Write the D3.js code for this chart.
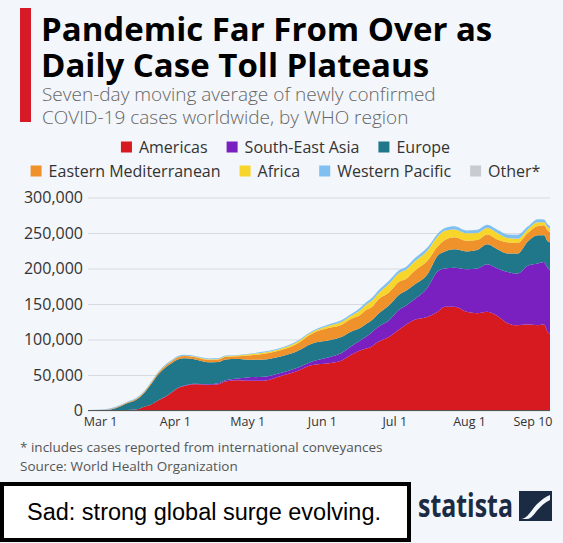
<!DOCTYPE html>
<html>
<head>
<meta charset="utf-8">
<script src="https://cdn.jsdelivr.net/npm/d3@7/dist/d3.min.js"></script>
<style>
html, body { margin: 0; padding: 0; background: #f3f6fa; }
svg { display: block; font-family: "Open Sans", sans-serif; }
</style>
</head>
<body>
<svg id="chart" width="563" height="543"></svg>
<script>
// regions, bottom to top in the stack
const regions = ["Americas", "South-East Asia", "Europe", "Eastern Mediterranean", "Africa", "Western Pacific", "Other*"];
const regionColors = ["#d71920", "#7a1fc0", "#20778a", "#f0922b", "#f8d52b", "#80c0f0", "#c8cbcf"];

// 7-day average, thousands of new cases per day
const dates = ["2020-02-25","2020-03-03","2020-03-08","2020-03-12","2020-03-16","2020-03-19","2020-03-22",
  "2020-03-25","2020-03-28","2020-03-31","2020-04-02","2020-04-05","2020-04-09","2020-04-15","2020-04-19",
  "2020-04-22","2020-04-27","2020-05-01","2020-05-08","2020-05-14","2020-05-21","2020-05-28","2020-06-04",
  "2020-06-09","2020-06-13","2020-06-17","2020-06-19","2020-06-22","2020-06-24","2020-06-29","2020-07-03",
  "2020-07-06","2020-07-09","2020-07-15","2020-07-19","2020-07-22","2020-07-26","2020-07-31","2020-08-05",
  "2020-08-10","2020-08-15","2020-08-20","2020-08-25","2020-08-30","2020-09-04","2020-09-07","2020-09-09","2020-09-10"];
const americas = [0,0,0.3,0.8,1.5,5,8,14,19,26,31,34.5,37,36,37,41,42.5,42,42,47.5,54.5,64,66.5,70,78,85,87,91,96,104,114,
  121,127,132,139,146,146,139,137,139,133,123,120,121,120,121,110,108];
const seAsia = [0,0,0,0,0,0.1,0.1,0.2,0.3,0.4,0.5,0.6,0.8,1,1.3,1.5,2.5,4.5,5.5,4.5,4.5,5,8.5,10.5,12,14,16,20,21,23.5,28,
  27,28.5,42,57,54,55,60,63,67,67,72,73,83,87,88,90,90];
const europe = [0.1,0.4,3.5,9,13.5,18.5,28,36,41,41,40,38.5,34.5,31,30,29.5,27.5,25,24.5,23.5,23.5,25.5,24,23,21,17.5,18,17,18,21,21,
  21,21,19,22,24,26,25,26,28,27,26,28,34,40,38,38,39];
const eastMed = [0.1,0.5,1.2,1.2,1.5,1.5,2,2.3,2.5,2.6,3,3,3.2,3.5,3.5,3.6,4,6,8,8.5,10,14,17.5,17,18,18.5,20,18.5,20,18.5,18.5,
  16.5,19,19,13,16,17,15,14,14,14,16,15,12,13,14,15,14];
const africa = [0,0,0,0.1,0.1,0.2,0.2,0.3,0.3,0.4,0.4,0.5,0.6,0.7,0.8,0.9,1,1.2,1.8,2,2.5,2.2,3,4,4,6.5,7,9,8.5,12,12,
  13,13,14,14,13,11,10.5,10,9,9,6,6,5,5,4,5,5];
const westPac = [0.4,0.8,1,1,1.1,1,1,1,1.2,1.3,1.4,1.3,1.1,1.2,1,0.8,0.7,0.8,1.2,1.3,1.5,1.3,2,2.5,2.5,3.5,3.5,4,4,4.5,4,
  4,4.5,4.5,4,4,4.5,4,4.5,4.5,4.5,5,5.5,4,4.5,4,4,4];
const other = [0,0,0,0,0,0,0,0,0,0,0,0,0,0,0,0,0,0,0,0,0,0,0,0,0,0,0,0,0,0,0,0,0,0,0,0,0,0,0,0,0,0,0,0,0,0,0,0];

const yTicks = [0, 50000, 100000, 150000, 200000, 250000, 300000];
const xTickDates = ["2020-03-01","2020-04-01","2020-05-01","2020-06-01","2020-07-01","2020-08-01","2020-09-10"];
const xTickLabels = ["Mar 1","Apr 1","May 1","Jun 1","Jul 1","Aug 1","Sep 10"];

const parse = d3.timeParse("%Y-%m-%d");
const series = [americas, seAsia, europe, eastMed, africa, westPac, other];
const rows = dates.map((d, i) => {
    const r = { date: parse(d) };
    regions.forEach((k, j) => r[k] = series[j][i] * 1000);
    return r;
});

const svg = d3.select("#chart");
const plot = { left: 88, right: 550, top: 197.5, bottom: 410.5 };

// title block
svg.append("rect").attr("x", 20).attr("y", 8).attr("width", 11).attr("height", 114).attr("fill", "#d71a28");
svg.append("text").attr("x", 41).attr("y", 41).attr("font-size", 33).attr("font-weight", 700).attr("fill", "#000")
    .text("Pandemic Far From Over as");
svg.append("text").attr("x", 41).attr("y", 77).attr("font-size", 33).attr("font-weight", 700).attr("fill", "#000")
    .text("Daily Case Toll Plateaus");
svg.append("text").attr("x", 42).attr("y", 101).attr("font-size", 19).attr("font-weight", 300).attr("fill", "#666")
    .text("Seven-day moving average of newly confirmed");
svg.append("text").attr("x", 42).attr("y", 124).attr("font-size", 19).attr("font-weight", 300).attr("fill", "#666")
    .text("COVID-19 cases worldwide, by WHO region");

// legend, two centred rows
function legendRow(keys, cy) {
    const g = svg.append("g");
    let cx = 0;
    keys.forEach(k => {
        const i = regions.indexOf(k);
        g.append("rect").attr("x", cx).attr("y", cy - 5.5).attr("width", 11).attr("height", 11).attr("fill", regionColors[i]);
        const t = g.append("text").attr("x", cx + 18).attr("y", cy + 5.5).attr("font-size", 16).attr("fill", "#333").text(k);
        cx += 18 + t.node().getComputedTextLength() + 19;
    });
    const w = cx - 19;
    g.attr("transform", `translate(${285.5 - w / 2},0)`);
}
legendRow(regions.slice(0, 3), 147);
legendRow(regions.slice(3), 171);

// scales
const x = d3.scaleTime()
    .domain([parse("2020-02-25"), parse("2020-08-01"), parse("2020-09-10")])
    .range([plot.left, 469, plot.right]);
const y = d3.scaleLinear().domain([0, 300000]).range([plot.bottom, plot.top]);

// grid + y labels
const yAxis = svg.append("g")
    .attr("transform", `translate(${plot.left},0)`)
    .call(d3.axisLeft(y).tickValues(yTicks).tickFormat(d3.format(",")).tickSize(-(plot.right - plot.left)).tickPadding(5));
yAxis.select(".domain").remove();
yAxis.selectAll("line").attr("stroke", "#d7dadf").attr("stroke-width", 1.2);
yAxis.selectAll("text").attr("font-size", 16).attr("fill", "#333").attr("font-family", "Open Sans");

// stacked areas
const stacked = d3.stack().keys(regions)(rows);
const area = d3.area()
    .x(d => x(d.data.date))
    .y0(d => y(d[0]))
    .y1(d => y(d[1]))
    .curve(d3.curveMonotoneX);
svg.append("g").selectAll("path")
    .data(stacked)
    .join("path")
    .attr("d", area)
    .attr("fill", (d, i) => regionColors[i]);

// baseline
svg.append("line").attr("x1", plot.left).attr("x2", plot.right).attr("y1", y(0)).attr("y2", y(0))
    .attr("stroke", "#555").attr("stroke-width", 1.2);

// x axis
const xAxis = svg.append("g")
    .attr("transform", `translate(0,${plot.bottom})`)
    .call(d3.axisBottom(x).tickValues(xTickDates.map(parse)).tickFormat((d, i) => xTickLabels[i]).tickSize(0).tickPadding(7));
xAxis.select(".domain").remove();
xAxis.selectAll("text").attr("font-size", 12.5).attr("fill", "#333").attr("font-family", "Open Sans");
xAxis.selectAll("text").filter((d, i) => i === xTickLabels.length - 1).attr("text-anchor", "end").attr("dx", 2);

// notes
svg.append("text").attr("x", 20).attr("y", 452).attr("font-size", 13.5).attr("fill", "#555")
    .text("* includes cases reported from international conveyances");
svg.append("text").attr("x", 20).attr("y", 471).attr("font-size", 13.5).attr("fill", "#555")
    .text("Source: World Health Organization");

// statista logo
svg.append("text").attr("x", 418).attr("y", 517).attr("font-size", 32).attr("font-weight", 700).attr("fill", "#1b2b44")
    .attr("textLength", 95).attr("lengthAdjust", "spacingAndGlyphs").text("statista");
svg.append("rect").attr("x", 519).attr("y", 491).attr("width", 33).attr("height", 30).attr("fill", "#1b2b44");
svg.append("path").attr("d", "M521,519 C530,519 532,503 550,495 L550,500 C536,507 534,519 527,519 Z").attr("fill", "#f3f6fa");

// annotation box
svg.append("rect").attr("x", 2).attr("y", 484).attr("width", 407).attr("height", 56)
    .attr("fill", "#fff").attr("stroke", "#000").attr("stroke-width", 4);
svg.append("text").attr("x", 204).attr("y", 520).attr("text-anchor", "middle").attr("font-size", 23.5)
    .attr("font-family", "Liberation Sans, Arial, sans-serif").attr("fill", "#000")
    .text("Sad: strong global surge evolving.");
</script>
</body>
</html>
